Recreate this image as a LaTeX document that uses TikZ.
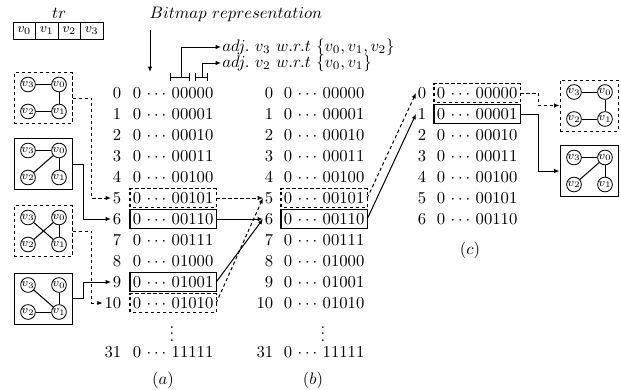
\documentclass[tikz,border=0pt]{standalone}
\usetikzlibrary{arrows.meta,calc}
\begin{document}
\begin{tikzpicture}[
  x=0.6pt,y=-0.6pt,
  every node/.style={font=\fontsize{10}{12}\selectfont},
  lbl/.style={anchor=east,inner sep=0.9pt},
  bits/.style={anchor=west,inner xsep=1.5pt,inner ysep=2.2pt},
  ln/.style={line width=0.6pt},
  dsh/.style={dash pattern=on 2pt off 1.6pt},
  sbox/.style={draw,line width=0.7pt},
  dbox/.style={draw,dsh,line width=0.7pt},
  gsbox/.style={draw,line width=0.6pt},
  gdbox/.style={draw,dsh,line width=0.6pt},
  gbox/.style={minimum width=34.8pt,minimum height=30.6pt,inner sep=0pt},
  vtx/.style={circle,draw,line width=0.5pt,inner sep=0pt,minimum size=7.8pt,font=\fontsize{7.2}{7.2}\selectfont},
  arr/.style={ln,-{Latex[length=3.2pt,width=2.6pt]}},
  cell/.style={draw,line width=0.6pt,minimum width=13.5pt,minimum height=10.2pt,inner sep=0pt,font=\fontsize{8.4}{8.4}\selectfont},
  brk/.style={line width=0.6pt,{Bar[width=4.8pt]}-{Bar[width=4.8pt]}}
]
\useasboundingbox (0,0) rectangle (621,389);
\newcommand\mygraph[4]{%
  \node[gbox,#3] (#1) at (#2) {};
  \node[vtx] (#1v3) at ($(#1)+(-15,-13.5)$) {$v_3$};
  \node[vtx] (#1v0) at ($(#1)+(16,-13.5)$) {$v_0$};
  \node[vtx] (#1v2) at ($(#1)+(-15,13.5)$) {$v_2$};
  \node[vtx] (#1v1) at ($(#1)+(16,13.5)$) {$v_1$};
  \foreach \p/\q in {#4} \draw[ln] (#1v\p) -- (#1v\q);
}
% top
\node (tr) at (59,13) {$tr$};
\foreach \k in {0,...,3} \node[cell] (t\k) at ({24.25+22.5*\k},30.5) {$v_\k$};
\node (bmp) at (236,14) {$Bitmap\ representation$};
\coordinate (dn1) at (150,30);
\coordinate (dn2) at (150,72);
\draw[arr] (dn1) -- (dn2);
\coordinate (br1a) at (170,77); \coordinate (br1b) at (190,77); \coordinate (br1m) at (181,77);
\coordinate (br2a) at (195,77); \coordinate (br2b) at (208,77); \coordinate (br2m) at (202,77);
\draw[brk] (br1a) -- (br1b);
\draw[brk] (br2a) -- (br2b);
\node[anchor=west,inner sep=0.6pt] (adj1) at (221,47) {$adj.\ v_3\ w.r.t\ \{v_0,v_1,v_2\}$};
\node[anchor=west,inner sep=0.6pt] (adj2) at (221,63) {$adj.\ v_2\ w.r.t\ \{v_0,v_1\}$};
\draw[arr] (br1m) |- (adj1.west);
\draw[arr] (br2m) |- (adj2.west);
% columns (a) and (b)
\foreach \i/\b in {0/00000,1/00001,2/00010,3/00011,4/00100,5/00101,6/00110,7/00111,8/01000,9/01001,10/01010} {
  \node[lbl] (a\i) at (123,{93+21*\i}) {$\i$};
  \node[bits] (ab\i) at (130,{93+21*\i}) {$0\,\cdots\,\b$};
  \node[lbl] (b\i) at (275,{93+21*\i}) {$\i$};
  \node[bits] (bb\i) at (281,{93+21*\i}) {$0\,\cdots\,\b$};
}
\node[inner sep=0pt] (avd) at (172,329) {$\vdots$};
\node[inner sep=0pt] (bvd) at (323,329) {$\vdots$};
\node[lbl] (a31) at (123,352) {$31$};
\node[bits] (ab31) at (130,352) {$0\,\cdots\,11111$};
\node[lbl] (b31) at (275,352) {$31$};
\node[bits] (bb31) at (281,352) {$0\,\cdots\,11111$};
\node (capa) at (163,380) {$(a)$};
\node (capb) at (313,380) {$(b)$};
% column (c)
\foreach \i/\b in {0/00000,1/00001,2/00010,3/00011,4/00100,5/00101,6/00110} {
  \node[lbl] (c\i) at (428,{93+21*\i}) {$\i$};
  \node[bits] (cb\i) at (434,{93+21*\i}) {$0\,\cdots\,\b$};
}
\node (capc) at (470,250) {$(c)$};
% row boxes
\draw[dbox] (ab5.south west) rectangle (ab5.north east);
\draw[sbox] (ab6.south west) rectangle (ab6.north east);
\draw[sbox] (ab9.south west) rectangle (ab9.north east);
\draw[dbox] (ab10.south west) rectangle (ab10.north east);
\draw[dbox] (bb5.south west) rectangle (bb5.north east);
\draw[sbox] (bb6.south west) rectangle (bb6.north east);
\draw[dbox] (cb0.south west) rectangle (cb0.north east);
\draw[sbox] (cb1.south west) rectangle (cb1.north east);
% graphs
\mygraph{g1}{43,98}{gdbox}{3/0,2/1,0/1}
\mygraph{g2}{43,164}{gsbox}{3/0,0/1,0/2}
\mygraph{g3}{43,231}{gdbox}{3/1,2/0,0/1}
\mygraph{g4}{43,298.5}{gsbox}{3/1,2/1,0/1}
\mygraph{h1}{589,105.5}{gdbox}{3/0,2/1,0/1}
\mygraph{h2}{589,171}{gsbox}{3/0,0/1,0/2}
% connectors
\draw[arr,dsh] (g1.east) -- ++(19,0) |- (a5.west);
\draw[arr] (g2.east) -- ++(11,0) |- (a6.west);
\draw[arr,dsh] (g3.east) -- ++(19,0) |- (a10.west);
\draw[arr] (g4.east) -- ++(11,0) |- (a9.west);
\draw[arr,dsh] (ab5.east) -- (b5.west);
\draw[arr] (ab6.east) -- (b6.west);
\draw[arr] (ab9.east) -- (b6.west);
\draw[arr,dsh] (ab10.east) -- (b5.west);
\draw[arr,dsh] (bb5.east) -- (c0.west);
\draw[arr] (bb6.east) -- (c1.west);
\draw[arr,dsh] (cb0.east) -- ++(18,0) |- (h1.west);
\draw[arr] (cb1.east) -- ++(18,0) |- (h2.west);
\end{tikzpicture}
\end{document}
